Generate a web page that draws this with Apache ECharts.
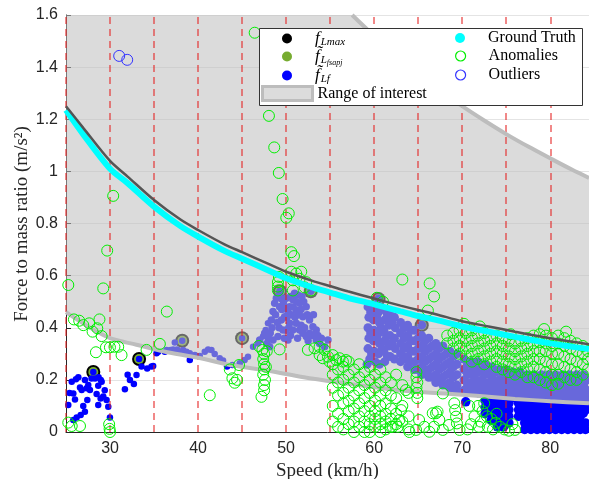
<!DOCTYPE html>
<html lang="en">
<head>
  <meta charset="UTF-8">
  <title>Force to mass ratio vs speed</title>
  <script src="https://cdn.jsdelivr.net/npm/echarts@6/dist/echarts.min.js"></script>
  <style>html,body{margin:0;padding:0;background:#fff;}</style>
</head>
<body>
  <div id="main" style="width: 589px; height: 479px;"></div>

  <script>
    // axis ranges
    const xMin = 25, xMax = 84.4, yMin = 0, yMax = 1.6;

    // red dashed reference speeds
    const redLineX = [25, 30, 35, 40, 45, 50, 55, 60, 65, 70, 75, 80];

    // range of interest
    const bandTopSpeed = [57.5, 60, 62.5, 65, 67.5, 70, 72.5, 75, 77.5, 80, 82.5, 84.4];
    const bandTopForce = [1.6, 1.52, 1.448, 1.378, 1.31, 1.25, 1.195, 1.143, 1.095, 1.05, 1.006, 0.975];
    const bandLowSpeed = [25, 27.5, 30, 33, 36, 40, 44, 48, 52, 56, 60, 64, 68, 72, 76, 80, 84.4];
    const bandLowForce = [0.46, 0.405, 0.36, 0.335, 0.31, 0.285, 0.255, 0.235, 0.21, 0.19, 0.172, 0.156, 0.148, 0.138, 0.127, 0.118, 0.11];

    // ground truth curve and the dark curve above it
    const gtSpeed = [25, 27, 30, 32, 35, 38, 40, 43, 45, 48, 50, 53, 55, 57, 60, 63, 65, 67, 70, 73, 76, 80, 84.4];
    const gtForce = [1.235, 1.14, 1.01, 0.955, 0.865, 0.79, 0.75, 0.695, 0.665, 0.62, 0.59, 0.555, 0.535, 0.515, 0.49, 0.463, 0.445, 0.43, 0.405, 0.385, 0.365, 0.34, 0.318];
    const darkForce = [1.25, 1.165, 1.04, 0.98, 0.89, 0.815, 0.775, 0.72, 0.69, 0.645, 0.615, 0.58, 0.56, 0.54, 0.512, 0.485, 0.468, 0.452, 0.425, 0.405, 0.385, 0.36, 0.337];

    // f_Lmax and f~_Lfsapj markers
    const fLmaxPts = [[28.1,0.23],[33.3,0.28],[38.2,0.35],[45,0.36],[49.3,0.54],[52.8,0.54],[60.5,0.51],[65.4,0.41]];
    const fSapjPts = [[28.1,0.23],[33.3,0.28],[38.2,0.35],[45,0.36],[49.3,0.54],[52.8,0.54],[60.5,0.51],[65.4,0.41]];

    // f~_Lf points
    const blueLow = [
      [25.65,0.193],[26.13,0.202],[26.59,0.171],[27.15,0.2],[25.83,0.148],[25.26,0.104],[26.02,0.125],[26.78,0.161],
      [27.34,0.168],[27.72,0.161],[27.53,0.18],[29.05,0.193],[28.66,0.177],[28.48,0.146],[28.93,0.129],[29.23,0.136],
      [29.61,0.123],[29.8,0.097],[29.99,0.056],[28.66,0.104],[27.42,0.123],[26.96,0.1],[26.67,0.065],[26.21,0.056],
      [25.83,0.046],[27.15,0.078],[28.3,0.205],[28.1,0.23],[26.4,0.21],[25.4,0.15],[29.4,0.16],[27.9,0.205],[28.7,0.21],[28.95,0.2],
      [31.69,0.164],[32.26,0.2],[32.71,0.184],[33.01,0.219],[33.58,0.251],[34.22,0.244],[34.71,0.251],[34.9,0.253],[35.28,0.302],[33.3,0.28],[32.0,0.22],
      [35.47,0.308],[36.22,0.308],[36.42,0.315],[36.87,0.315],[37.17,0.317],[37.36,0.343],[37.62,0.317],[37.74,0.308],
      [38.3,0.315],[38.49,0.304],[38.68,0.308],[39.06,0.276],[39.06,0.302],[39.63,0.295],[40.19,0.292],[40.76,0.308],
      [41.14,0.317],[41.52,0.315],[41.89,0.299],[42.46,0.283],[42.84,0.274],[43.29,0.251],[43.9,0.257],[44.73,0.264],
      [45.29,0.276],[45.67,0.289],[46.24,0.327],[46.8,0.34],[47.37,0.366],[47.68,0.391],[47.94,0.417],[38.2,0.35],[45,0.36]
    ];
    const bluePeak = [
      [47,0.353],[47.56,0.379],[48.13,0.327],[48.32,0.43],[48.51,0.462],[48.51,0.353],[48.7,0.494],[48.89,0.513],
      [49.07,0.366],[49.26,0.481],[49.26,0.532],[49.45,0.43],[49.64,0.391],[49.83,0.442],[50.02,0.513],[50.21,0.462],
      [50.21,0.353],[50.4,0.481],[50.4,0.417],[50.77,0.507],[50.77,0.391],[50.96,0.532],[51.15,0.468],[51.15,0.417],
      [51.34,0.526],[51.53,0.494],[51.53,0.391],[51.9,0.442],[51.9,0.379],[52.28,0.481],[52.28,0.366],[52.66,0.43],
      [52.66,0.379],[53.04,0.404],[53.42,0.391],[53.42,0.353],[53.8,0.34],[54.37,0.327],[54.75,0.353],[49.3,0.54],[52.8,0.54],
      [48.2,0.38],[48.4,0.40],[48.8,0.45],[49.0,0.42],[49.2,0.40],[49.5,0.47],[49.7,0.50],[49.9,0.48],[50.1,0.44],[50.3,0.40],
      [50.5,0.37],[50.6,0.45],[50.8,0.48],[51.0,0.44],[51.2,0.50],[51.3,0.36],[51.4,0.45],[51.7,0.47],[51.7,0.41],[52.0,0.50],
      [52.1,0.40],[52.4,0.45],[52.5,0.35],[52.9,0.37],[53.1,0.45],[53.2,0.37],[53.6,0.37],[54.0,0.36],[49.8,0.36],[50.0,0.39],
      [48.0,0.36],[47.8,0.34],[50.5,0.52],[51.8,0.52],[49.5,0.51]
    ];
    const blueCloud = [
      [59.3,0.48],[59.4,0.44],[59.3,0.40],[59.4,0.36],[59.3,0.32],[59.5,0.28],[59.9,0.47],[59.9,0.43],[60.0,0.39],[59.9,0.35],
      [60.0,0.31],[60.1,0.27],[60.5,0.46],[60.6,0.42],[60.5,0.38],[60.6,0.34],[60.5,0.30],[61.1,0.47],[61.2,0.43],[61.1,0.39],
      [61.2,0.35],[61.1,0.31],[61.2,0.27],[61.8,0.45],[61.7,0.41],[61.8,0.37],[61.7,0.33],[61.8,0.29],[62.3,0.44],[62.4,0.40],
      [62.3,0.36],[62.4,0.32],[62.3,0.28],[59.6,0.46],[59.6,0.38],[59.7,0.30],[60.3,0.44],[60.3,0.36],[60.8,0.40],[60.9,0.32],
      [61.5,0.45],[61.4,0.37],[61.5,0.29],[62.0,0.42],[62.0,0.34],[59.2,0.26],[60.6,0.26],[60.5,0.51],
      [63,0.42],[63,0.38],[63,0.34],[63,0.30],[63,0.27],[63.4,0.40],[63.4,0.36],[63.4,0.32],[63.4,0.28],
      [63.8,0.41],[63.8,0.37],[63.8,0.33],[63.8,0.29],[63.8,0.25],[64.2,0.39],[64.2,0.35],[64.2,0.31],[64.2,0.27],
      [64.6,0.39],[64.6,0.35],[64.6,0.31],[64.6,0.27],[64.6,0.24],[65,0.36],[65,0.32],[65,0.28],[65,0.24],[65.4,0.41],
      [65.4,0.37],[65.4,0.33],[65.4,0.29],[65.4,0.25],[65.4,0.22],[65.8,0.35],[65.8,0.31],[65.8,0.27],[65.8,0.23],
      [66.2,0.36],[66.2,0.32],[66.2,0.28],[66.2,0.24],[66.2,0.21],[66.6,0.33],[66.6,0.29],[66.6,0.25],[66.6,0.21],
      [67,0.34],[67,0.30],[67,0.26],[67,0.22],[67,0.19],[67.4,0.32],[67.4,0.28],[67.4,0.24],[67.4,0.20],
      [67.8,0.33],[67.8,0.29],[67.8,0.25],[67.8,0.21],[67.8,0.18],[68.2,0.30],[68.2,0.26],[68.2,0.22],[68.2,0.18],
      [68.6,0.31],[68.6,0.27],[68.6,0.23],[68.6,0.19],[68.6,0.17],[69,0.29],[69,0.25],[69,0.21],[69,0.17],
      [69.4,0.30],[69.4,0.26],[69.4,0.22],[69.4,0.18],[69.4,0.16],
      [70.2,0.28],[70.2,0.24],[70.2,0.2],[70.2,0.16],[70.6,0.26],[70.6,0.22],[70.6,0.18],[71,0.27],[71,0.23],[71,0.19],[71,0.155],
      [71.4,0.25],[71.4,0.21],[71.4,0.17],[71.8,0.27],[71.8,0.23],[71.8,0.19],[71.8,0.15],[72.2,0.24],[72.2,0.2],[72.2,0.165],
      [72.6,0.26],[72.6,0.22],[72.6,0.18],[72.6,0.145],[73,0.23],[73,0.19],[73,0.155],[73.4,0.25],[73.4,0.21],[73.4,0.17],[73.4,0.14],
      [73.8,0.23],[73.8,0.19],[73.8,0.155],[74.2,0.24],[74.2,0.2],[74.2,0.165],[74.2,0.135],[74.6,0.22],[74.6,0.18],[74.6,0.15],
      [75,0.24],[75,0.2],[75,0.16],[75,0.13],[75.4,0.22],[75.4,0.18],[75.4,0.145],[75.8,0.23],[75.8,0.19],[75.8,0.155],[75.8,0.13],
      [76.2,0.21],[76.2,0.175],[76.2,0.14],[76.6,0.23],[76.6,0.19],[76.6,0.155],[76.6,0.125],[77,0.2],[77,0.17],[77,0.14],
      [77.4,0.22],[77.4,0.185],[77.4,0.15],[77.4,0.125],[77.8,0.2],[77.8,0.165],[77.8,0.135],[78.2,0.22],[78.2,0.185],[78.2,0.15],[78.2,0.12],
      [78.6,0.2],[78.6,0.165],[78.6,0.135],[79,0.22],[79,0.18],[79,0.145],[79,0.12],[79.4,0.2],[79.4,0.16],[79.4,0.13],
      [79.8,0.22],[79.8,0.18],[79.8,0.145],[79.8,0.12],[80.2,0.2],[80.2,0.16],[80.2,0.13],[80.6,0.22],[80.6,0.18],[80.6,0.145],[80.6,0.115],
      [81,0.2],[81,0.16],[81,0.13],[81.4,0.22],[81.4,0.18],[81.4,0.145],[81.4,0.115],[81.8,0.2],[81.8,0.16],[81.8,0.13],
      [82.2,0.22],[82.2,0.18],[82.2,0.145],[82.2,0.115],[82.6,0.2],[82.6,0.16],[82.6,0.13],[83,0.22],[83,0.18],[83,0.145],[83,0.115],
      [83.4,0.2],[83.4,0.16],[83.4,0.13],[83.8,0.22],[83.8,0.18],[83.8,0.145],[83.8,0.115],[84.2,0.2],[84.2,0.16],[84.2,0.13]
    ];
    const blueBlock = [
      [70.4,0.116],[72.6,0.12],[72.6,0.095],[72.6,0.07],[73.3,0.12],[73.3,0.095],[73.3,0.07],[73.3,0.045],[74,0.12],[74,0.095],
      [74,0.07],[74,0.045],[74,0.02],[74.7,0.12],[74.7,0.095],[74.7,0.07],[74.7,0.045],[74.7,0.02],[75.3,0.11],[75.3,0.085],[75.3,0.06],[75.3,0.035],
      [76.4,0.11],[76.4,0.085],[76.4,0.06],[77.1,0.11],[77.1,0.085],[77.1,0.06],[77.1,0.035],[77.1,0.01],
      [77.8,0.11],[77.8,0.085],[77.8,0.06],[77.8,0.035],[77.8,0.01],[78.5,0.11],[78.5,0.085],[78.5,0.06],[78.5,0.035],[78.5,0.01],
      [79.2,0.11],[79.2,0.085],[79.2,0.06],[79.2,0.035],[79.2,0.01],[79.9,0.11],[79.9,0.085],[79.9,0.06],[79.9,0.035],[79.9,0.01],
      [80.6,0.11],[80.6,0.085],[80.6,0.06],[80.6,0.035],[80.6,0.01],[81.3,0.11],[81.3,0.085],[81.3,0.06],[81.3,0.035],[81.3,0.01],
      [82,0.11],[82,0.085],[82,0.06],[82,0.035],[82,0.01],[82.7,0.11],[82.7,0.085],[82.7,0.06],[82.7,0.035],[82.7,0.01],
      [83.4,0.11],[83.4,0.085],[83.4,0.06],[83.4,0.035],[83.4,0.01],[84.0,0.11],[84.0,0.085],[84.0,0.035],[84.0,0.01],
      [76.75,0.097],[76.75,0.072],[77.45,0.097],[77.45,0.072],[77.45,0.047],[77.45,0.022],[78.15,0.097],[78.15,0.072],[78.15,0.047],[78.15,0.022],
      [78.85,0.097],[78.85,0.072],[78.85,0.047],[78.85,0.022],[79.55,0.097],[79.55,0.072],[79.55,0.047],[79.55,0.022],
      [80.25,0.097],[80.25,0.072],[80.25,0.047],[80.25,0.022],[80.95,0.097],[80.95,0.072],[80.95,0.047],[80.95,0.022],
      [81.65,0.097],[81.65,0.072],[81.65,0.047],[81.65,0.022],[82.35,0.097],[82.35,0.072],[82.35,0.047],[82.35,0.022],
      [83.05,0.097],[83.05,0.072],[83.05,0.047],[83.05,0.022],[83.75,0.097],[83.75,0.072],[83.75,0.022]
    ];

    // anomalies
    const anomLeft = [
      [25.26,0.564],[25.9,0.432],[26.5,0.427],[26.96,0.41],[27.64,0.417],[28.02,0.385],[28.55,0.398],[28.8,0.432],[29.05,0.368],
      [28.4,0.306],[29.54,0.325],[29.99,0.325],[30.5,0.327],[30.93,0.327],[31.31,0.295],[29.23,0.551],[29.68,0.696],[30.36,0.906],
      [25.26,0.036],[25.65,0.023],[26.59,0.023],[29.9,0.03],[29.95,0.012],[30.0,0.0],[34.15,0.315],[35.66,0.338],[36.45,0.462],
      [41.33,0.141],[43.6,0.24],[43.9,0.206],[44.16,0.189],[44.43,0.2],[44.65,0.257]
    ];
    const anomMid = [
      [46.43,1.532],[48.05,1.213],[48.65,1.092],[49.17,0.994],[49.6,0.894],[50.3,0.839],[50.02,0.822],[50.59,0.69],[50.89,0.675],
      [46.9,0.33],[47.3,0.315],[47.5,0.3],[47.4,0.28],[47.5,0.26],[47.5,0.24],[47.4,0.22],[47.6,0.2],[47.5,0.18],[47.5,0.16],
      [47.2,0.135],[47.8,0.31],[47.7,0.25],
      [49.07,0.575],[49.07,0.558],[49.07,0.543],[49.18,0.595],[50.59,0.615],[51.15,0.608],[51.72,0.615],[51.53,0.588],[50.77,0.582],
      [52.28,0.575],[52.1,0.555],[50.77,0.543],[52.85,0.543],
      [49.26,0.317],[52.47,0.315],[53.23,0.321],[53.8,0.327],[54.37,0.315],[53.8,0.295],[54.75,0.289],[55.3,0.295],[55.7,0.276],
      [56.07,0.283],[56.45,0.27],[56.8,0.276],[54.93,0.27],[54.17,0.283]
    ];
    const anomLow = [
      [55.3,0.26],[55.3,0.22],[55.3,0.17],[55.3,0.1],[55.3,0.04],[55.9,0.24],[55.9,0.19],[55.9,0.14],[55.9,0.07],[55.9,0.02],
      [56.5,0.25],[56.5,0.2],[56.5,0.15],[56.5,0.11],[56.5,0.05],[56.5,0.01],[57.1,0.27],[57.1,0.22],[57.1,0.17],[57.1,0.12],[57.1,0.08],[57.1,0.03],
      [57.7,0.24],[57.7,0.19],[57.7,0.14],[57.7,0.09],[57.7,0.04],[57.7,0.0],[58.3,0.26],[58.3,0.21],[58.3,0.16],[58.3,0.11],[58.3,0.06],[58.3,0.02],
      [58.9,0.23],[58.9,0.18],[58.9,0.13],[58.9,0.08],[58.9,0.04],[58.9,0.0],[59.5,0.25],[59.5,0.2],[59.5,0.15],[59.5,0.1],[59.5,0.06],[59.5,0.03],[59.5,0.0],
      [60.1,0.22],[60.1,0.17],[60.1,0.12],[60.1,0.08],[60.1,0.05],[60.1,0.02],[60.7,0.24],[60.7,0.19],[60.7,0.14],[60.7,0.1],[60.7,0.06],[60.7,0.03],[60.7,0.0],
      [61.3,0.21],[61.3,0.16],[61.3,0.11],[61.3,0.07],[61.3,0.04],[61.3,0.01],[61.9,0.19],[61.9,0.14],[61.9,0.09],[61.9,0.05],[61.9,0.02],
      [62.5,0.22],[62.5,0.13],[62.5,0.07],[62.5,0.03],[63.2,0.18],[63.2,0.1],[63.2,0.04],[63.9,0.15],[63.9,0.06],[63.9,0.01],
      [64.8,0.23],[64.8,0.21],[64.9,0.19],[64.8,0.17],[64.9,0.15],[64.9,0.13],[65.1,0.046],[65.7,0.02],[64.76,0.008],[64,0.0],
      [62.68,0.02],[62.87,0.046],[62.1,0.02],[63.6,0.161],[63.06,0.084],
      [66.65,0.072],[67.2,0.078],[67.4,0.046],[66.8,0.02],[67.8,0.008],[68.5,0.027],[69.1,0.11],[69.2,0.084],[69.3,0.059],[69.4,0.033],
      [69.7,0.008],[66.27,0.001],[67.8,0.148],[67.03,0.072],
      [71.8,0.1],[72.3,0.08],[72.8,0.06],[73.3,0.05],[73.8,0.035],[74.3,0.02],[74.8,0.01],[75.3,0.005],[72.1,0.04],[72.9,0.02],
      [73.5,0.01],[71.4,0.06],[71,0.03],[70.6,0.01],[76,0.008],[75.7,0.03],[72.5,0.11],[71.9,0.02],[73.9,0.07],[70.8,0.1]
    ];
    const anomBand = [
      [63.2,0.585],[66.3,0.57],[66.8,0.52],[66.1,0.466],[61,0.5],[60.3,0.515],[70.2,0.415],[72,0.405],[75.5,0.375],[79.3,0.395],[81.8,0.385],
      [68.3,0.37],[68.3,0.34],[69,0.38],[69,0.35],[69,0.32],[69.7,0.39],[69.7,0.36],[69.7,0.33],[69.7,0.30],
      [70.4,0.38],[70.4,0.35],[70.4,0.32],[70.4,0.29],[71.1,0.39],[71.1,0.36],[71.1,0.33],[71.1,0.30],[71.1,0.27],
      [71.8,0.37],[71.8,0.34],[71.8,0.31],[71.8,0.28],[72.5,0.38],[72.5,0.35],[72.5,0.32],[72.5,0.29],[72.5,0.26],
      [73.2,0.36],[73.2,0.33],[73.2,0.30],[73.2,0.27],[73.9,0.37],[73.9,0.34],[73.9,0.31],[73.9,0.28],[73.9,0.25],
      [74.6,0.36],[74.6,0.33],[74.6,0.30],[74.6,0.27],[74.6,0.24],[75.3,0.35],[75.3,0.32],[75.3,0.29],[75.3,0.26],[75.3,0.23],
      [76,0.34],[76,0.31],[76,0.28],[76,0.25],[76,0.22],[76.7,0.35],[76.7,0.32],[76.7,0.29],[76.7,0.26],[76.7,0.23],
      [77.4,0.36],[77.4,0.33],[77.4,0.30],[77.4,0.27],[77.4,0.24],[77.4,0.21],[78.1,0.37],[78.1,0.34],[78.1,0.31],[78.1,0.28],[78.1,0.25],[78.1,0.21],
      [78.8,0.375],[78.8,0.345],[78.8,0.31],[78.8,0.28],[78.8,0.24],[78.8,0.2],[79.5,0.37],[79.5,0.34],[79.5,0.31],[79.5,0.27],[79.5,0.23],[79.5,0.19],
      [80.2,0.36],[80.2,0.33],[80.2,0.30],[80.2,0.26],[80.2,0.22],[80.2,0.18],[80.9,0.37],[80.9,0.34],[80.9,0.30],[80.9,0.26],[80.9,0.22],[80.9,0.185],
      [81.6,0.36],[81.6,0.33],[81.6,0.29],[81.6,0.25],[81.6,0.21],[82.3,0.35],[82.3,0.32],[82.3,0.28],[82.3,0.24],[82.3,0.2],
      [83,0.34],[83,0.31],[83,0.27],[83,0.23],[83,0.2],[83.7,0.33],[83.7,0.30],[83.7,0.26],[83.7,0.22],[84.3,0.31],[84.3,0.28],[84.3,0.24]
    ];

    // outliers
    const outlierPts = [[31.04,1.443],[31.95,1.428]];

    const zip = (xs, ys) => xs.map((x, i) => [x, ys[i]]);

    const chart = echarts.init(document.getElementById('main'));

    const serif = 'Liberation Serif';
    const green = '#00ee00';

    // legend labels with math-like subscripts
    const legendRich = {
      g: { width: 18 },
      t: { fontFamily: serif, fontSize: 16, color: '#000' },
      f: { fontFamily: serif, fontSize: 17, fontStyle: 'italic', color: '#000' },
      s: { fontFamily: serif, fontSize: 11, fontStyle: 'italic', color: '#000', padding: [8, 0, 0, 1] },
      ss: { fontFamily: serif, fontSize: 8, fontStyle: 'italic', color: '#000', padding: [12, 0, 0, 0] }
    };
    const legendText = {
      'fLmax': '{g|}{f|f}{s|Lmax}',
      'fLfsapj': '{g|}{f|f\u0303}{s|L}{ss|fsapj}',
      'fLf': '{g|}{f|f\u0303}{s|Lf}',
      'Ground Truth': '{g|}{t|Ground Truth}',
      'Anomalies': '{g|}{t|Anomalies}',
      'Outliers': '{g|}{t|Outliers}',
      'Range of interest': '{t|Range of interest}'
    };

    function legendItem(name, left, cy, itemStyle, w, h) {
      return {
        show: true, selectedMode: false, z: 20, padding: 0,
        left: left, top: cy - 10, itemWidth: w, itemHeight: h,
        data: [{ name: name, icon: w > 20 ? 'rect' : 'circle', itemStyle: itemStyle }],
        formatter: n => legendText[n],
        textStyle: { rich: legendRich }
      };
    }

    const options = {
      animation: false,
      grid: { left: 66, right: 0, top: 15, bottom: 47, outerBoundsMode: 'none', containLabel: false },
      xAxis: {
        type: 'value', min: xMin, max: xMax, interval: 5,
        name: 'Speed (km/h)', nameLocation: 'middle', nameGap: 26,
        nameTextStyle: { fontFamily: serif, fontSize: 19, color: '#262626' },
        axisLine: { show: true, onZero: false, lineStyle: { color: '#262626', width: 1 } },
        axisTick: { show: false },
        axisLabel: {
          margin: 9, fontFamily: 'Liberation Sans', fontSize: 16, color: '#262626',
          formatter: v => (Math.abs(v % 10) < 1e-6 ? String(v) : '')
        },
        splitLine: { show: false }
      },
      yAxis: {
        type: 'value', min: yMin, max: yMax, interval: 0.2,
        axisLine: { show: true, lineStyle: { color: '#262626', width: 1 } },
        axisTick: { show: true, inside: true, length: 5, lineStyle: { color: '#262626' } },
        axisLabel: { margin: 8, fontFamily: 'Liberation Sans', fontSize: 16, color: '#262626' },
        splitLine: { show: true, lineStyle: { color: '#e4e4e4', width: 1 } }
      },
      graphic: [
        {
          type: 'text', x: 22, y: 224, rotation: Math.PI / 2, z: 20,
          style: { text: 'Force to mass ratio (m/s\u00b2)', font: '19px "Liberation Serif"', fill: '#262626', align: 'center', verticalAlign: 'middle' }
        },
        {
          type: 'rect', z: 19,
          shape: { x: 259.5, y: 28.5, width: 323, height: 77 },
          style: { fill: '#fff', stroke: '#333', lineWidth: 1 }
        }
      ],
      legend: [
        legendItem('fLmax', 282, 40, { color: '#000' }, 10, 10),
        legendItem('fLfsapj', 282, 58, { color: '#77ac30' }, 10, 10),
        legendItem('fLf', 282, 77, { color: '#0000ff' }, 10, 10),
        legendItem('Range of interest', 261, 95, { color: '#dcdcdc', borderColor: '#bdbdbd', borderWidth: 3 }, 50, 14),
        legendItem('Ground Truth', 455, 40, { color: '#00ffff' }, 10, 10),
        legendItem('Anomalies', 455, 58, { color: 'rgba(0,0,0,0)', borderColor: green, borderWidth: 1.2 }, 10, 10),
        legendItem('Outliers', 455, 77, { color: 'rgba(0,0,0,0)', borderColor: '#3333ff', borderWidth: 1.2 }, 10, 10)
      ],
      series: [
        { name: 'fLmax', type: 'scatter', z: 1, symbolSize: 14, itemStyle: { color: '#000', opacity: 1 }, data: fLmaxPts },
        { name: 'fLfsapj', type: 'scatter', z: 2, symbolSize: 10, itemStyle: { color: '#77ac30', opacity: 1 }, data: fSapjPts },
        { name: 'fLf', type: 'scatter', z: 3, symbolSize: 6.5, itemStyle: { color: '#0000ff', opacity: 1 }, data: blueLow },
        { name: 'fLf', type: 'scatter', z: 3, symbolSize: 7.5, itemStyle: { color: '#0000ff', opacity: 1 }, data: bluePeak },
        { name: 'fLf', type: 'scatter', z: 3, symbolSize: 9, itemStyle: { color: '#0000ff', opacity: 1 }, data: blueCloud },
        { name: 'fLf', type: 'scatter', z: 3, symbolSize: 9.5, itemStyle: { color: '#0000ff', opacity: 1 }, data: blueBlock },
        {
          name: 'Range of interest', type: 'custom', z: 4, silent: true,
          data: [[xMin, yMin]],
          renderItem: (params, api) => {
            const pts = [api.coord([xMin, yMax])];
            bandTopSpeed.forEach((x, i) => pts.push(api.coord([x, bandTopForce[i]])));
            for (let i = bandLowSpeed.length - 1; i >= 0; i--) pts.push(api.coord([bandLowSpeed[i], bandLowForce[i]]));
            return { type: 'polygon', shape: { points: pts }, style: { fill: 'rgba(190,190,190,0.55)' } };
          }
        },
        {
          type: 'line', z: 5, silent: true, symbol: 'none', smooth: 0.3,
          lineStyle: { color: '#bdbdbd', width: 4 }, data: zip(bandTopSpeed, bandTopForce)
        },
        {
          type: 'line', z: 5, silent: true, symbol: 'none', smooth: 0.3,
          lineStyle: { color: '#bdbdbd', width: 4 }, data: zip(bandLowSpeed, bandLowForce)
        },
        {
          type: 'line', z: 6, silent: true, data: [],
          markLine: {
            silent: true, symbol: ['none', 'none'], label: { show: false },
            lineStyle: { color: 'rgba(228,30,30,0.7)', type: [7, 5], width: 1.5 },
            data: redLineX.map(x => ({ xAxis: x }))
          }
        },
        {
          name: 'Anomalies', type: 'scatter', z: 7, symbol: 'circle', symbolSize: 11,
          itemStyle: { color: 'rgba(0,0,0,0)', borderColor: green, borderWidth: 1, opacity: 1 },
          data: anomLeft.concat(anomMid, anomLow, anomBand)
        },
        {
          name: 'Outliers', type: 'scatter', z: 7, symbol: 'circle', symbolSize: 11,
          itemStyle: { color: 'rgba(0,0,0,0)', borderColor: '#3333ff', borderWidth: 1, opacity: 1 },
          data: outlierPts
        },
        {
          name: 'Ground Truth', type: 'line', z: 8, symbol: 'none', smooth: 0.3,
          lineStyle: { color: '#00ffff', width: 6 }, data: zip(gtSpeed, gtForce)
        },
        {
          type: 'line', z: 9, symbol: 'none', smooth: 0.3, silent: true,
          lineStyle: { color: '#555555', width: 2.5 }, data: zip(gtSpeed, darkForce)
        }
      ]
    };

    chart.setOption(options);
  </script>
</body>
</html>
